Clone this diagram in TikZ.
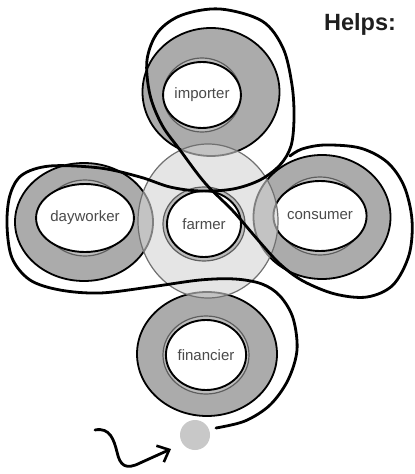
\documentclass[tikz,border=0pt]{standalone}
\usepackage{fontspec}
\setmainfont{Liberation Sans}
\usetikzlibrary{arrows.meta,shapes.geometric}
\definecolor{ringgray}{HTML}{ABABAB}
\definecolor{bandgray}{HTML}{BDBDBD}
\definecolor{darkband}{HTML}{5E5E5E}
\definecolor{farmergray}{HTML}{D4D4D4}
\definecolor{farmerline}{HTML}{707070}
\definecolor{labelgray}{HTML}{4A4A4A}
\definecolor{dotgray}{HTML}{C8C8C8}
\tikzset{
  outerring/.style={ellipse, inner sep=0pt, fill=ringgray, draw=black, line width=1.8bp},
  innerband/.style={ellipse, inner sep=0pt, fill=bandgray, draw=darkband, line width=1.2bp},
  innerwhite/.style={ellipse, inner sep=0pt, fill=white, draw=black, line width=1.9bp,
     text=labelgray, font=\fontsize{15bp}{18bp}\selectfont},
  farmerdisc/.style={ellipse, inner sep=0pt, fill=farmergray, fill opacity=0.6, draw=farmerline, line width=1.2bp},
  loopline/.style={line width=2.8bp, line cap=round, line join=round},
}
\begin{document}
\begin{tikzpicture}[x=1bp,y=-1bp]
\useasboundingbox (0,0) rectangle (414,474);
\fill[white] (0,0) rectangle (414,474);
% importer
\node[outerring, minimum width=137bp, minimum height=128bp] (impR) at (211,92) {};
\node[innerband, minimum width=78bp, minimum height=74bp] (impB) at (202,95) {};
\node[innerwhite, minimum width=70bp, minimum height=66bp] (imp) at (202,95) {importer};
% dayworker
\node[outerring, minimum width=138bp, minimum height=118bp] (dayR) at (84,222) {};
\node[innerband, minimum width=84bp, minimum height=76bp] (dayB) at (85,218) {};
\node[innerwhite, minimum width=76bp, minimum height=68bp] (day) at (85,218) {dayworker};
% consumer
\node[outerring, minimum width=137bp, minimum height=124bp] (conR) at (322,217) {};
\node[innerband, minimum width=86bp, minimum height=78bp] (conB) at (320,216) {};
\node[innerwhite, minimum width=78bp, minimum height=70bp] (con) at (320,216) {consumer};
% financier
\node[outerring, minimum width=140bp, minimum height=124bp] (finR) at (207,354) {};
\node[innerband, minimum width=86bp, minimum height=78bp] (finB) at (206,355) {};
\node[innerwhite, minimum width=78bp, minimum height=70bp] (fin) at (206,355) {financier};
% farmer
\node[farmerdisc, minimum width=140bp, minimum height=154bp] (farR) at (208,221) {};
\node[innerband, minimum width=82bp, minimum height=74bp] (farB) at (204,224) {};
\node[innerwhite, minimum width=74bp, minimum height=66bp] (far) at (204,224) {farmer};
% dot
\node[circle, fill=dotgray, minimum size=30bp, inner sep=0pt] (dot) at (195,435) {};
% big loop
\draw[loopline] plot[smooth, tension=0.55] coordinates {
 (216,428) (245,421) (270,405) (288,380) (297,350) (293,318) (280,296) (262,284)
 (235,279) (200,280) (150,287) (100,293) (60,290) (30,280) (12,258) (7,225) (10,195)
 (22,175) (50,166) (100,168) (140,177) (170,187) (200,191) (233,189) (260,180)
 (280,165) (291,146) (294,118) (292,85) (283,48) (262,21) (220,9) (182,15) (158,32)
 (147,60) (150,95) (162,125) (180,150) (205,183) (233,211) (258,240) (280,264)
 (303,281) (335,294) (367,297) (393,285) (409,255) (412,220) (404,186) (387,162)
 (360,148) (325,145) (302,149) (290,156)};
% squiggle arrow
\coordinate (sqS) at (95,430);
\coordinate (sqE) at (171,449);
\draw[line width=2.8bp, line cap=round, -{Straight Barb[length=10bp,width=18bp,line width=2.6bp]}]
  (sqS) .. controls (110,427) and (114,440) .. (117,452)
        .. controls (120,466) and (126,470) .. (140,463) -- (sqE);
% title
\node[font=\bfseries\fontsize{23.5bp}{28bp}\selectfont, text=black!88, inner sep=0pt] (helps) at (360,24) {Helps:};
\end{tikzpicture}
\end{document}
